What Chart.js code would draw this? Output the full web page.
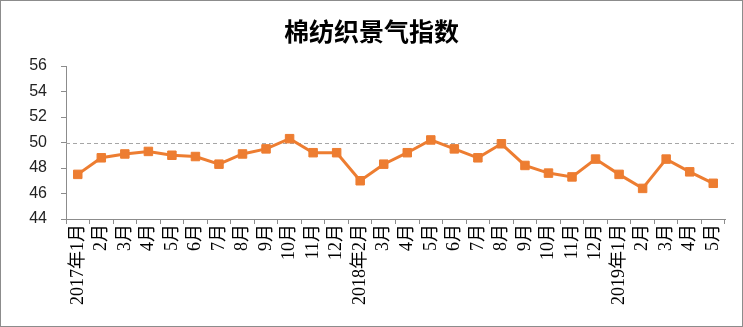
<!DOCTYPE html>
<html>
<head>
<meta charset="utf-8">
<script src="https://cdn.jsdelivr.net/npm/chart.js@4/dist/chart.umd.min.js"></script>
<style>
  html, body { margin: 0; padding: 0; background: #fff; }
  #box { width: 743px; height: 327px; box-sizing: border-box; border: 1px solid #8c8c8c; background: #fff; }
  #myChart { display: block; }
</style>
</head>
<body>
<div id="box"><canvas id="myChart" width="741" height="325"></canvas></div>
<script>
// categories (2018 starts at Feb)
const months = [
  "2017年1月", "2月", "3月", "4月", "5月", "6月", "7月", "8月", "9月", "10月", "11月", "12月",
  "2018年2月", "3月", "4月", "5月", "6月", "7月", "8月", "9月", "10月", "11月", "12月",
  "2019年1月", "2月", "3月", "4月", "5月"
];
// 棉纺织景气指数
const indexValues = [
  47.5, 48.8, 49.1, 49.3, 49.0, 48.9, 48.3, 49.1, 49.5, 50.3, 49.2, 49.2,
  47.0, 48.3, 49.2, 50.2, 49.5, 48.8, 49.9, 48.2, 47.6, 47.3, 48.7,
  47.5, 46.4, 48.7, 47.7, 46.8
];
const yTicks = [44, 46, 48, 50, 52, 54, 56];
const refLine = 50;

const axisGray = "#8c8c8c";

// dashed line at 50, runs a bit past the last tick like the excel plot area
const refLinePlugin = {
  id: "refLine",
  beforeDatasetsDraw(chart) {
    const y = chart.scales.y.getPixelForValue(refLine);
    const a = chart.chartArea;
    const c = chart.ctx;
    c.save();
    c.strokeStyle = "#a6a6a6";
    c.lineWidth = 1;
    c.setLineDash([4, 3]);
    c.beginPath();
    c.moveTo(a.left, Math.round(y) + 0.5);
    c.lineTo(a.right + 9, Math.round(y) + 0.5);
    c.stroke();
    c.restore();
  }
};

const ctx = document.getElementById("myChart").getContext("2d");
const myChart = new Chart(ctx, {
  type: "line",
  data: {
    labels: months,
    datasets: [{
      label: "棉纺织景气指数",
      data: indexValues,
      borderColor: "#ED7D31",
      backgroundColor: "#ED7D31",
      borderWidth: 3,
      tension: 0,
      pointStyle: "rect",
      pointRadius: 6,
      pointBorderWidth: 1,
      pointBackgroundColor: "#ED7D31",
      pointBorderColor: "#ED7D31"
    }]
  },
  options: {
    responsive: false,
    animation: false,
    layout: { padding: 0 },
    plugins: {
      legend: { display: false },
      tooltip: { enabled: false },
      title: {
        display: true,
        text: "棉纺织景气指数",
        color: "#000",
        font: { family: "'Noto Sans CJK SC', sans-serif", size: 25, weight: "bold" },
        padding: { top: 15, bottom: 20 }
      }
    },
    scales: {
      x: {
        offset: true,
        grid: { offset: true, drawOnChartArea: false, color: axisGray, tickColor: axisGray, tickLength: 5 },
        border: { color: axisGray, width: 1 },
        ticks: {
          autoSkip: false,
          minRotation: 90,
          maxRotation: 90,
          padding: 0,
          color: "#000",
          font: { family: "'Liberation Serif', 'Noto Sans CJK SC', serif", size: 18 }
        },
        afterFit: function (scale) { scale.height = 107; }
      },
      y: {
        min: yTicks[0],
        max: yTicks[yTicks.length - 1],
        afterBuildTicks: function (scale) { scale.ticks = yTicks.map(v => ({ value: v })); },
        grid: {
          drawOnChartArea: false,
          color: axisGray,
          tickColor: axisGray,
          tickLength: 5
        },
        border: { color: axisGray, width: 1 },
        ticks: {
          padding: 14,
          color: "#222",
          font: { family: "'Liberation Sans', 'DejaVu Sans', sans-serif", size: 16 }
        },
        afterFit: function (scale) { scale.width = 65; }
      },
      // empty right margin so the title stays centred on the whole canvas
      yRight: {
        position: "right",
        grid: { display: false },
        border: { display: false },
        ticks: { display: false },
        afterFit: function (scale) { scale.width = 17; }
      }
    }
  },
  plugins: [refLinePlugin]
});
</script>
</body>
</html>
